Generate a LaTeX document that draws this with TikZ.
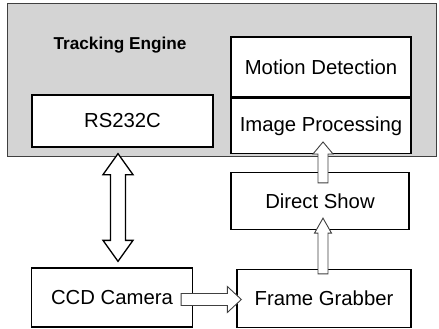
\documentclass[tikz,border=0pt]{standalone}
\usepackage{fontspec}
\setmainfont{Liberation Sans}
\usetikzlibrary{calc}

\definecolor{panelgray}{RGB}{212,212,212}

\tikzset{
  box/.style={draw=black, line width=1.3pt, fill=white, inner sep=0pt,
    font=\fontsize{20.3}{23}\selectfont},
  panel/.style={draw=black!75, line width=1pt, fill=panelgray},
  hollowarrow/.style={draw=black!75, line width=0.9pt, fill=white, line join=miter},
  bigarrow/.style={draw=black, line width=1.3pt, fill=white, line join=miter},
}

% vertical block arrow: style, start, tip, shaft half-width, head half-width, head length
\newcommand\vblockarrow[6]{%
  \draw[#1] let \p1=(#2), \p2=(#3), \n1={sign(\y2-\y1)} in
    (\x1-#4pt,\y1) -- (\x1-#4pt,\y2-\n1*#6pt) -- (\x1-#5pt,\y2-\n1*#6pt) --
    (\x1,\y2) -- (\x1+#5pt,\y2-\n1*#6pt) -- (\x1+#4pt,\y2-\n1*#6pt) --
    (\x1+#4pt,\y1) -- cycle;}
% vertical double-headed block arrow: style, upper tip, lower tip, shaft, head, head length
\newcommand\vdoublearrow[6]{%
  \draw[#1] let \p1=(#2), \p2=(#3) in
    (\x1,\y1) -- (\x1+#5pt,\y1-#6pt) -- (\x1+#4pt,\y1-#6pt) --
    (\x1+#4pt,\y2+#6pt) -- (\x1+#5pt,\y2+#6pt) -- (\x1,\y2) --
    (\x1-#5pt,\y2+#6pt) -- (\x1-#4pt,\y2+#6pt) --
    (\x1-#4pt,\y1-#6pt) -- (\x1-#5pt,\y1-#6pt) -- cycle;}
% horizontal block arrow pointing right
\newcommand\hblockarrow[6]{%
  \draw[#1] let \p1=(#2), \p2=(#3) in
    (\x1,\y1-#4pt) -- (\x2-#6pt,\y1-#4pt) -- (\x2-#6pt,\y1-#5pt) --
    (\x2,\y1) -- (\x2-#6pt,\y1+#5pt) -- (\x2-#6pt,\y1+#4pt) --
    (\x1,\y1+#4pt) -- cycle;}

\begin{document}
\begin{tikzpicture}[x=1pt, y=-1pt]
  \useasboundingbox (0,0) rectangle (439,329);

  % tracking engine panel
  \path[panel] (7,4) rectangle (436,156);
  \node[font=\bfseries\fontsize{17.2}{20}\selectfont, inner sep=0pt] (te) at (120,45) {Tracking Engine};

  % modules inside the engine
  \node[box, minimum width=181pt, minimum height=52pt] (rs) at (122.5,121) {RS232C};
  \node[box, minimum width=180pt, minimum height=60pt] (md) at (321,67) {Motion Detection};
  \node[box, minimum width=180pt, minimum height=55pt, anchor=north] (ip) at (md.south) {Image Processing};

  % capture chain
  \node[box, minimum width=178pt, minimum height=57pt] (ds) at (320,201) {Direct Show};
  \node[box, minimum width=174pt, minimum height=58pt] (fg) at (324,298.5) {Frame Grabber};
  \node[box, minimum width=161pt, minimum height=59pt] (cam) at (112,297.5) {CCD Camera};

  % end points of the block arrows
  \coordinate (c2a) at ([xshift=-12pt, yshift=-2pt]cam.east);
  \coordinate (c2b) at ([xshift=5pt]fg.west);
  \coordinate (f2a) at ([xshift=-1pt, yshift=-5pt]fg.north);
  \coordinate (f2b) at ([xshift=-1pt, yshift=12pt]ds.south);
  \coordinate (d2a) at ([xshift=3pt, yshift=-11pt]ds.north);
  \coordinate (d2b) at ([xshift=2pt, yshift=12pt]ip.south);
  \coordinate (r2top) at ([xshift=-4.5pt, yshift=-6pt]rs.south);
  \coordinate (r2bot) at (r2top |- cam.north);
  \coordinate (r2low) at ([yshift=6pt]r2bot);

  % RS232C <-> CCD camera
  \vdoublearrow{bigarrow}{r2top}{r2low}{7.5}{15}{21}

  % CCD camera -> frame grabber
  \hblockarrow{hollowarrow}{c2a}{c2b}{6}{13}{14}
  % frame grabber -> direct show
  \vblockarrow{hollowarrow}{f2a}{f2b}{5}{8.5}{15}
  % direct show -> image processing
  \vblockarrow{hollowarrow}{d2a}{d2b}{5}{10}{12}
\end{tikzpicture}
\end{document}
